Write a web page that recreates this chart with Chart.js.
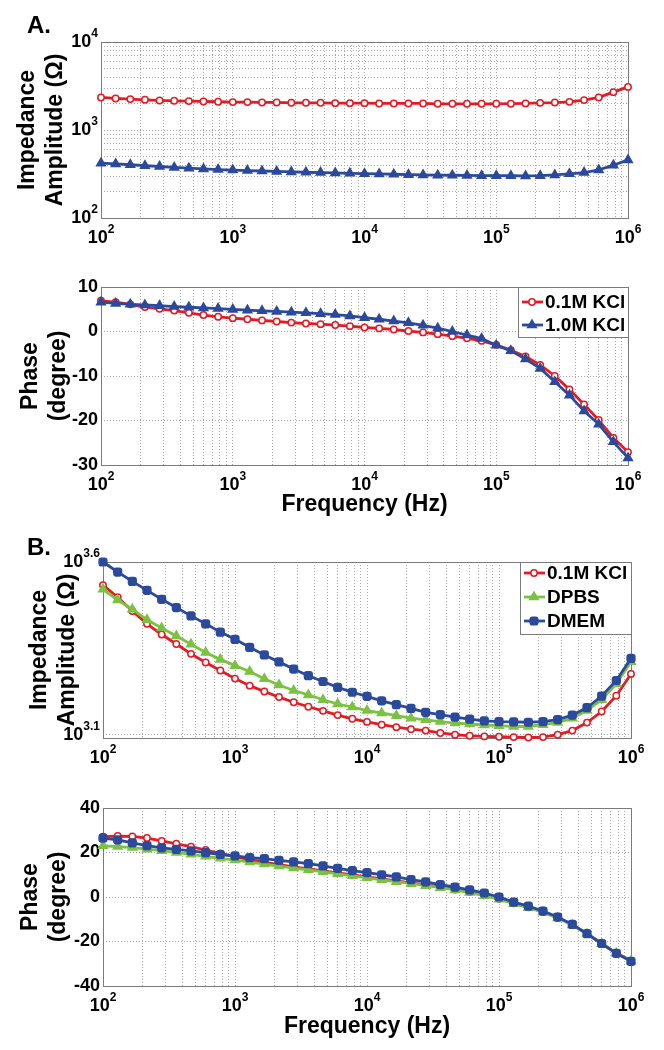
<!DOCTYPE html>
<html lang="en">
<head>
<meta charset="UTF-8" />
<title>Impedance spectra</title>
<script src="https://cdn.jsdelivr.net/npm/chart.js"></script>
<style>
  body { margin: 0; background: #fff; }
  #wrap { position: relative; width: 664px; height: 1050px; background: #fff; font-family: "Liberation Sans", Arial, sans-serif; }
  #wrap canvas { position: absolute; left: 0; }
  .tag { position: absolute; font-weight: bold; font-size: 24px; line-height: 24px; }
</style>
</head>
<body>
<div id="wrap">
  <canvas id="aZ" width="664" height="255" style="top:0"></canvas>
  <canvas id="aP" width="664" height="275" style="top:255px"></canvas>
  <canvas id="bZ" width="664" height="245" style="top:530px"></canvas>
  <canvas id="bP" width="664" height="275" style="top:775px"></canvas>
  <div class="tag" style="left:27px;top:13px">A.</div>
  <div class="tag" style="left:27px;top:535px">B.</div>
</div>
<script>
// sweep frequencies (Hz), 9 points per decade
const freq = [100, 129.2, 166.8, 215.4, 278.3, 359.4, 464.2, 599.5, 774.3,
  1000, 1292, 1668, 2154, 2783, 3594, 4642, 5995, 7743,
  10000, 12915, 16681, 21544, 27826, 35938, 46416, 59948, 77426,
  100000, 129155, 166810, 215443, 278256, 359381, 464159, 599484, 774264, 1000000];

// panel A: impedance amplitude (ohm)
const kcl01Z_A = [2344, 2284, 2244, 2205, 2167, 2148, 2130, 2111, 2093, 2075, 2075, 2056, 2056, 2038, 2038, 2038, 2020, 2020, 2020,
  2002, 2002, 2002, 2002, 1984, 1984, 1984, 1984, 1984, 1990, 2005, 2036, 2050, 2090, 2188, 2345, 2692, 3090];
const kcl10Z_A = [420, 412, 403, 393, 385, 376, 368, 361, 355, 350, 346, 342, 338, 334, 331, 328, 325, 322, 319,
  317, 314, 311, 309, 307, 306, 305, 303, 303, 302, 301, 303, 309, 318, 328, 352, 398, 457];
// panel A: phase (degree)
const kcl01P_A = [6.9, 6.6, 6.1, 5.5, 5.1, 4.7, 4.2, 3.7, 3.3, 3.0, 2.75, 2.5, 2.25, 2.0, 1.8, 1.65, 1.45, 1.2, 0.9,
  0.7, 0.45, 0.1, -0.2, -0.6, -1.05, -1.5, -2.1, -3.0, -4.2, -5.6, -7.5, -10.0, -13.0, -16.4, -19.9, -23.9, -27.1];
const kcl10P_A = [6.6, 6.3, 6.1, 5.95, 5.8, 5.6, 5.45, 5.3, 5.15, 4.95, 4.8, 4.65, 4.5, 4.35, 4.2, 4.0, 3.8, 3.5, 3.1,
  2.75, 2.35, 1.95, 1.4, 0.75, 0.0, -0.8, -1.6, -3.1, -4.35, -6.2, -8.3, -11.3, -14.3, -17.85, -20.85, -24.8, -28.4];

// panel B: impedance amplitude (ohm)
const kcl01Z_B = [3412, 3148, 2871, 2636, 2455, 2305, 2158, 2037, 1932, 1830, 1746, 1679, 1618, 1563, 1517, 1476, 1435, 1400, 1371,
  1346, 1324, 1306, 1294, 1274, 1259, 1250, 1245, 1242, 1239, 1236, 1239, 1259, 1294, 1365, 1469, 1633, 1888];
const dpbsZ_B = [3319, 3090, 2904, 2710, 2564, 2432, 2301, 2178, 2080, 1995, 1919, 1828, 1754, 1690, 1641, 1589, 1545, 1514, 1479,
  1455, 1429, 1406, 1390, 1374, 1361, 1352, 1343, 1337, 1330, 1330, 1346, 1365, 1406, 1479, 1589, 1766, 2049];
const dmemZ_B = [3981, 3724, 3499, 3296, 3105, 2938, 2780, 2636, 2495, 2377, 2254, 2143, 2046, 1950, 1866, 1795, 1726, 1671, 1626,
  1578, 1538, 1500, 1462, 1439, 1416, 1396, 1380, 1374, 1371, 1368, 1374, 1393, 1435, 1507, 1629, 1807, 2094];
// panel B: phase (degree)
const kcl01P_B = [27.1, 27.4, 27.2, 26.5, 25.2, 23.9, 22.6, 21.1, 19.6, 18.0, 16.8, 15.6, 14.5, 13.5, 12.6, 11.7, 10.8, 9.9, 9.0,
  8.1, 7.2, 6.3, 5.4, 4.5, 3.4, 2.2, 0.8, -0.8, -2.8, -4.6, -6.7, -9.3, -12.5, -16.5, -21.0, -25.2, -28.6];
const dpbsP_B = [23.0, 22.7, 22.2, 21.5, 20.8, 20.0, 19.2, 18.3, 17.4, 16.6, 15.7, 14.8, 13.9, 13.0, 12.2, 11.3, 10.4, 9.5, 8.6,
  7.7, 6.9, 6.0, 5.1, 4.2, 3.2, 2.0, 0.6, -1.0, -3.0, -4.8, -6.8, -9.4, -12.6, -16.6, -21.0, -25.3, -28.9];
const dmemP_B = [26.5, 25.7, 24.3, 23.1, 22.1, 21.4, 20.7, 19.9, 19.1, 18.5, 17.7, 17.2, 16.5, 15.8, 15.0, 14.0, 12.9, 11.9, 11.0,
  10.0, 9.0, 7.8, 6.8, 5.6, 4.4, 3.2, 1.8, 0.0, -2.3, -4.1, -6.3, -9.0, -12.3, -16.5, -20.9, -25.3, -28.9];

// tick labels (powers of ten)
const xTickExp = [2, 3, 4, 5, 6];
const aZTickExp = [2, 3, 4];
const bZTickExp = [3.1, 3.6];
const bZMinExp = 3.0905;

const FONT = '"Liberation Sans", Arial, sans-serif';
const GRID = '#a6a6a6';
const RED = '#e31b23', NAVY = '#2b4a9c', GREEN = '#7cc242';

// grid lines at 1..9 x 10^n
function logGrid(lo, hi) {
  const out = [];
  for (let e = lo; e < hi; e++) for (let m = 1; m < 10; m++) out.push(m * Math.pow(10, e));
  out.push(Math.pow(10, hi));
  return out;
}
const xGrid = logGrid(2, 6);
const aZGrid = logGrid(2, 4);

function series(label, ys, color, style, fill, r, order) {
  return {
    label, order,
    data: freq.map((f, i) => ({ x: f, y: ys[i] })),
    borderColor: color, borderWidth: 2.8,
    pointStyle: style, pointRadius: r, pointBackgroundColor: fill,
    pointBorderColor: color, pointBorderWidth: 1.5,
    clip: false, tension: 0
  };
}

function pow10(ctx, x, y, exp, align) {
  ctx.font = 'bold 18px ' + FONT;
  const w1 = ctx.measureText('10').width;
  ctx.font = 'bold 12px ' + FONT;
  const w2 = ctx.measureText(exp).width;
  const x0 = align === 'right' ? x - w1 - w2 : x - (w1 + w2) / 2;
  ctx.textBaseline = 'middle';
  ctx.textAlign = 'left';
  ctx.fillStyle = '#000';
  ctx.font = 'bold 18px ' + FONT;
  ctx.fillText('10', x0, y);
  ctx.font = 'bold 12px ' + FONT;
  ctx.fillText(exp, x0 + w1, y - 8);
}

const frame = {
  id: 'frame',
  beforeDatasetsDraw(chart) {
    const a = chart.chartArea, c = chart.ctx;
    c.save();
    c.strokeStyle = '#7a7a7a';
    c.lineWidth = 1;
    c.strokeRect(Math.round(a.left) + 0.5, Math.round(a.top) + 0.5, Math.round(a.right - a.left), Math.round(a.bottom - a.top));
    c.restore();
  }
};

const powLabels = {
  id: 'powLabels',
  afterDraw(chart, args, opts) {
    const c = chart.ctx, a = chart.chartArea;
    c.save();
    (opts.x || []).forEach(e => pow10(c, chart.scales.x.getPixelForValue(Math.pow(10, e)), a.bottom + 20, String(e), 'center'));
    (opts.y || []).forEach(e => pow10(c, a.left - 3, chart.scales.y.getPixelForValue(Math.pow(10, e)), String(e), 'right'));
    c.restore();
  }
};

function marker(c, ds, x, y) {
  if (Chart.helpers && Chart.helpers.drawPoint) {
    Chart.helpers.drawPoint(c, { pointStyle: ds.pointStyle, radius: ds.pointRadius, borderWidth: ds.pointBorderWidth, rotation: 0 }, x, y);
  } else {
    c.beginPath(); c.arc(x, y, ds.pointRadius, 0, Math.PI * 2); c.fill(); c.stroke();
  }
}

const keyBox = {
  id: 'keyBox',
  afterDatasetsDraw(chart, args, o) {
    if (!o.rows) return;
    const c = chart.ctx, a = chart.chartArea;
    const left = Math.round(a.right - o.width), top = Math.round(a.top);
    c.save();
    c.fillStyle = '#fff';
    c.fillRect(left, top, o.width, o.height);
    c.strokeStyle = '#7a7a7a';
    c.lineWidth = 1;
    c.strokeRect(left + 0.5, top + 0.5, o.width, o.height);
    o.rows.forEach((i, n) => {
      const ds = chart.data.datasets[i];
      const y = top + o.first + n * o.step;
      c.strokeStyle = ds.borderColor;
      c.lineWidth = ds.borderWidth;
      c.beginPath(); c.moveTo(left + 4, y); c.lineTo(left + 25, y); c.stroke();
      c.fillStyle = ds.pointBackgroundColor;
      c.strokeStyle = ds.pointBorderColor;
      c.lineWidth = ds.pointBorderWidth;
      marker(c, ds, left + 14, y);
      c.fillStyle = '#000';
      c.font = 'bold 19px ' + FONT;
      c.textBaseline = 'middle';
      c.textAlign = 'left';
      c.fillText(ds.label, left + 27, y + 1);
    });
    c.restore();
  }
};

function xAxis(h, titleBottom) {
  return {
    type: 'logarithmic', min: 100, max: 1e6,
    afterBuildTicks: s => { s.ticks = xGrid.map(v => ({ value: v })); },
    afterFit: s => { s.height = h; },
    ticks: { display: false },
    grid: { color: GRID, lineWidth: 1, drawTicks: false },
    border: { display: false, dash: [1, 2] },
    title: titleBottom == null ? { display: false } : {
      display: true, text: 'Frequency (Hz)', color: '#000',
      font: { family: FONT, size: 23, weight: 'bold', lineHeight: 1.2 },
      padding: { top: 0, bottom: titleBottom }
    }
  };
}

function yTitle(lines, pad) {
  return {
    display: true, text: lines, color: '#000',
    font: { family: FONT, size: 23, weight: 'bold', lineHeight: 1.2 },
    padding: { top: pad, bottom: 0 }
  };
}

function logY(w, min, max, ticks, lines, pad) {
  return {
    type: 'logarithmic', min, max,
    afterBuildTicks: s => { s.ticks = ticks.map(v => ({ value: v })); },
    afterFit: s => { s.width = w; },
    ticks: { display: false },
    grid: { color: GRID, lineWidth: 1, drawTicks: false },
    border: { display: false, dash: [1, 2] },
    title: yTitle(lines, pad)
  };
}

function phaseY(w, min, max, step, pad) {
  return {
    type: 'linear', min, max,
    afterFit: s => { s.width = w; },
    ticks: { stepSize: step, color: '#000', padding: 3, font: { family: FONT, size: 18, weight: 'bold' } },
    grid: { color: GRID, lineWidth: 1, drawTicks: false },
    border: { display: false, dash: [1, 2] },
    title: yTitle(['Phase', '(degree)'], pad)
  };
}

function draw(id, datasets, scales, pad, pluginOpts) {
  new Chart(document.getElementById(id), {
    type: 'line',
    data: { datasets },
    options: {
      responsive: false, animation: false, devicePixelRatio: 1,
      layout: { padding: pad },
      scales,
      plugins: Object.assign({ legend: { display: false }, tooltip: { enabled: false } }, pluginOpts)
    },
    plugins: [frame, powLabels, keyBox]
  });
}

// A. impedance amplitude
draw('aZ', [
  series('0.1M KCl', kcl01Z_A, RED, 'circle', '#fff', 3.2, 1),
  series('1.0M KCl', kcl10Z_A, NAVY, 'triangle', NAVY, 5, 0)
], {
  x: xAxis(37, null),
  y: logY(101, 100, 10000, aZGrid, ['Impedance', 'Amplitude (\u03A9)'], 14)
}, { top: 42, right: 36, left: 0, bottom: 0 }, { powLabels: { x: xTickExp, y: aZTickExp } });

// A. phase
draw('aP', [
  series('0.1M KCl', kcl01P_A, RED, 'circle', '#fff', 3.2, 1),
  series('1.0M KCl', kcl10P_A, NAVY, 'triangle', NAVY, 5, 0)
], {
  x: xAxis(65, 12),
  y: phaseY(101, -30, 10, 10, 17)
}, { top: 32, right: 36, left: 0, bottom: 0 }, {
  powLabels: { x: xTickExp },
  keyBox: { rows: [0, 1], width: 110, height: 50, first: 15, step: 23 }
});

// B. impedance amplitude
draw('bZ', [
  series('0.1M KCl', kcl01Z_B, RED, 'circle', '#fff', 3.2, 2),
  series('DPBS', dpbsZ_B, GREEN, 'triangle', GREEN, 5, 1),
  series('DMEM', dmemZ_B, NAVY, 'rectRounded', NAVY, 4.5, 0)
], {
  x: xAxis(37, null),
  y: logY(103, Math.pow(10, bZMinExp), Math.pow(10, 3.6), bZTickExp.map(e => Math.pow(10, e)), ['Impedance', 'Amplitude (\u03A9)'], 26)
}, { top: 32, right: 33, left: 0, bottom: 0 }, {
  powLabels: { x: xTickExp, y: bZTickExp },
  keyBox: { rows: [0, 1, 2], width: 111, height: 72, first: 11, step: 24 }
});

// B. phase
draw('bP', [
  series('0.1M KCl', kcl01P_B, RED, 'circle', '#fff', 3.2, 2),
  series('DPBS', dpbsP_B, GREEN, 'triangle', GREEN, 5, 1),
  series('DMEM', dmemP_B, NAVY, 'rectRounded', NAVY, 4.5, 0)
], {
  x: xAxis(64, 10),
  y: phaseY(103, -40, 40, 20, 17)
}, { top: 33, right: 33, left: 0, bottom: 0 }, { powLabels: { x: xTickExp } });
</script>
</body>
</html>
